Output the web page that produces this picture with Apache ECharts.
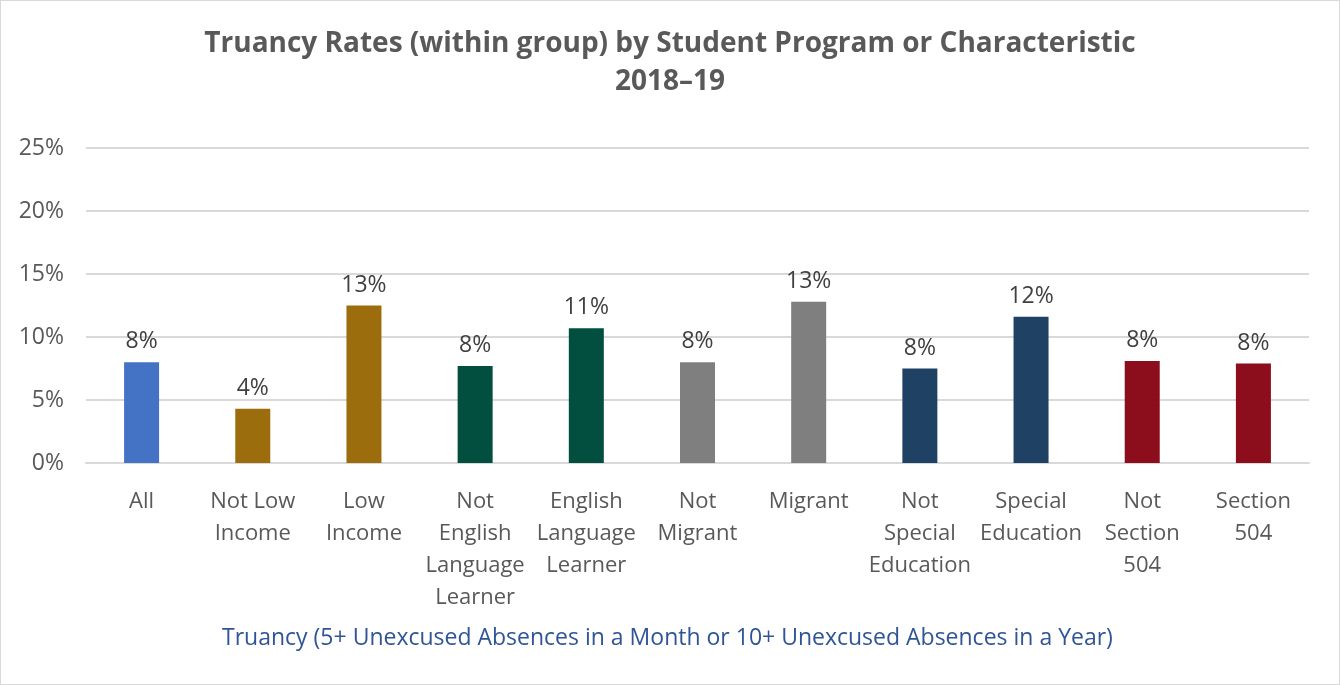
<!DOCTYPE html>
<html>
<head>
<meta charset="utf-8">
<script src="https://cdn.jsdelivr.net/npm/echarts@6/dist/echarts.min.js"></script>
<style>
  html,body{margin:0;padding:0;background:#fff;}
  #main{width:1340px;height:685px;box-sizing:border-box;border:1px solid #d9d9d9;}
</style>
</head>
<body>
<div id="main"></div>
<script>
// categories (line breaks as in the original axis labels)
let groups = ['All','Not Low\nIncome','Low\nIncome','Not\nEnglish\nLanguage\nLearner','English\nLanguage\nLearner','Not\nMigrant','Migrant','Not\nSpecial\nEducation','Special\nEducation','Not\nSection\n504','Section\n504'];
// truancy rate, percent
let rates = [8.0, 4.3, 12.5, 7.7, 10.7, 8.0, 12.8, 7.5, 11.6, 8.1, 7.9];
let barColors = ['#4472C4','#9C6D0C','#9C6D0C','#034F3F','#034F3F','#7F7F7F','#7F7F7F','#1F4164','#1F4164','#8C0D1C','#8C0D1C'];

let font = '"Open Sans", "Noto Sans", sans-serif';
let myChart = echarts.init(document.getElementById('main'));

myChart.setOption({
    title:[
        {
            text:'Truancy Rates (within group) by Student Program or Characteristic\n2018\u201319',
            left:'center',
            top:19,
            textStyle:{
                fontFamily:font,
                fontSize:28,
                fontWeight:'bold',
                color:'#595959',
                lineHeight:38
            }
        },
        {
            text:'Truancy (5+ Unexcused Absences in a Month or 10+ Unexcused Absences in a Year)',
            left:216,
            top:621,
            textStyle:{
                fontFamily:font,
                fontSize:23,
                fontWeight:'normal',
                color:'#2F5597'
            }
        }
    ],
    grid:{
        left:85,
        right:30,
        top:147,
        bottom:221,
        containLabel:false
    },
    xAxis:{
        type:'category',
        data:groups,
        axisLine:{lineStyle:{color:'#d9d9d9',width:2}},
        axisTick:{show:false},
        axisLabel:{
            interval:0,
            margin:23,
            fontFamily:font,
            fontSize:22,
            lineHeight:32,
            color:'#595959'
        }
    },
    yAxis:{
        type:'value',
        min:0,
        max:25,
        interval:5,
        axisLine:{show:false},
        axisTick:{show:false},
        splitLine:{lineStyle:{color:'#d9d9d9',width:2}},
        axisLabel:{
            formatter:'{value}%',
            margin:22,
            fontFamily:font,
            fontSize:23,
            color:'#595959'
        }
    },
    series:[
        {
            type:'bar',
            barWidth:35,
            data:rates.map((v,i)=>({value:v,itemStyle:{color:barColors[i]}})),
            label:{
                show:true,
                position:'top',
                distance:9,
                formatter:(p)=>Math.round(p.value)+'%',
                fontFamily:font,
                fontSize:23,
                color:'#404040'
            }
        }
    ],
    animation:false
});
</script>
</body>
</html>
